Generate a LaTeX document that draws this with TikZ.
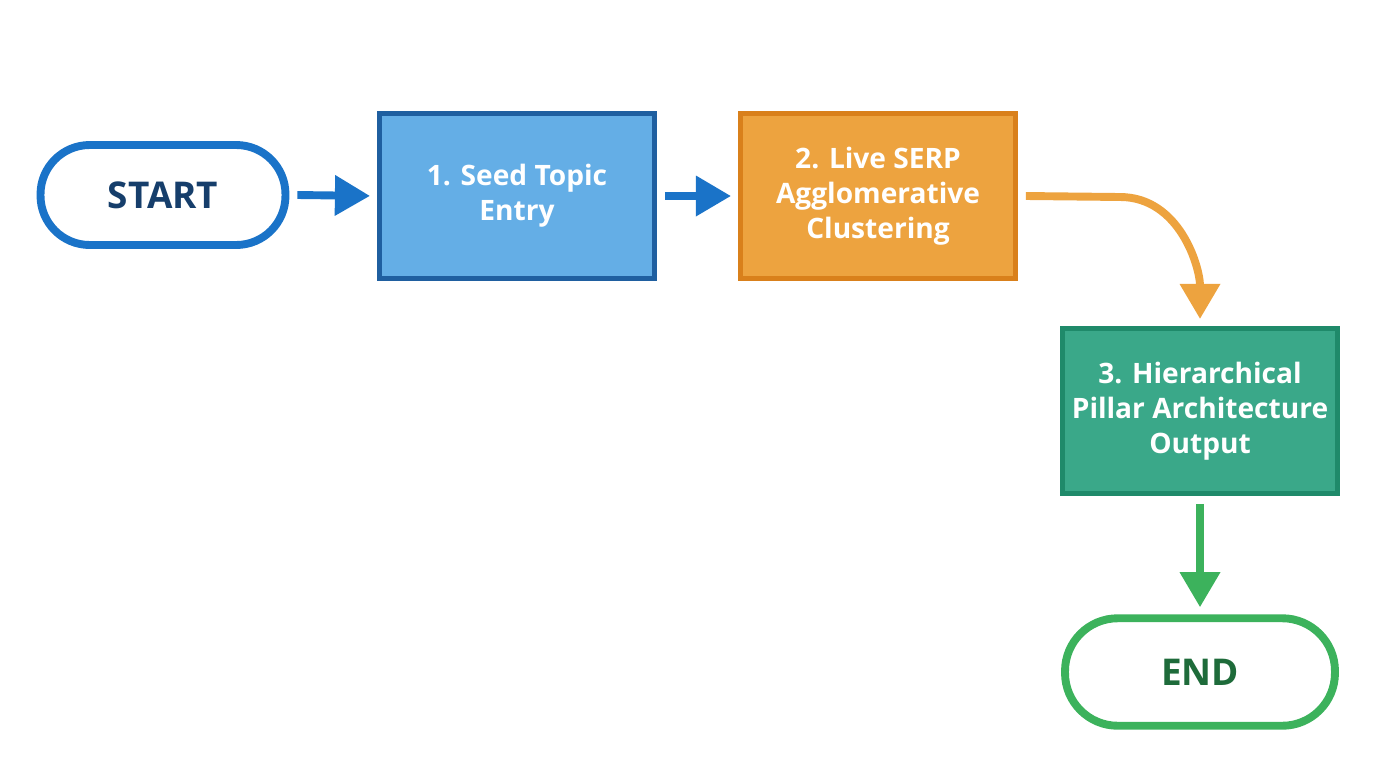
\documentclass[tikz,border=0pt]{standalone}
\usepackage{fontspec}
\setmainfont{Open Sans}
\usetikzlibrary{arrows.meta,positioning}
\definecolor{startblue}{HTML}{1A73C8}
\definecolor{navy}{HTML}{163E6B}
\definecolor{seedfill}{HTML}{64AEE6}
\definecolor{seedline}{HTML}{1F5FA0}
\definecolor{serpfill}{HTML}{EDA33F}
\definecolor{serpline}{HTML}{D9801B}
\definecolor{pillfill}{HTML}{3AA889}
\definecolor{pillline}{HTML}{1F8A6A}
\definecolor{endgreen}{HTML}{3CB25C}
\definecolor{darkgreen}{HTML}{1E6B3A}
\begin{document}
\begin{tikzpicture}[x=0.02cm,y=-0.02cm,
    stage/.style={rectangle,minimum width=5.5cm,minimum height=3.3cm,line width=2.8pt,
      align=center,text=white,font=\bfseries\fontsize{16}{20}\selectfont},
    terminal/.style={rectangle,draw,fill=white,line width=4.5pt,
      font=\bfseries\fontsize{21}{24}\selectfont},
    flow/.style={line width=4.5pt,-{Triangle[length=20pt,width=22pt]},shorten >=4pt}]
  \useasboundingbox (0,0) rectangle (1376,768);
  \node[terminal,rounded corners=28pt,draw=startblue,text=navy,
    minimum width=4.9cm,minimum height=2cm] (start) at (163,195) {START};
  \node[stage,draw=seedline,fill=seedfill] (seed) at (517,196) {1. Seed Topic\\Entry};
  \node[stage,draw=serpline,fill=serpfill] (serp) at (878,196) {2. Live SERP\\Agglomerative\\Clustering};
  \node[stage,draw=pillline,fill=pillfill] (pillar) at (1200,411) {3. Hierarchical\\Pillar Architecture\\Output};
  \node[terminal,rounded corners=30pt,draw=endgreen,text=darkgreen,
    minimum width=5.4cm,minimum height=2.15cm] (end) at (1200,672) {END};
  \coordinate (bend) at (1120,197);
  \draw[flow,draw=startblue] (start.east) ++(8,0) -- (seed.west);
  \draw[flow,draw=startblue] (seed.east) ++(8,0) -- (serp.west);
  \draw[flow,draw=serpfill] (serp.east) ++(8,0) -- (bend) to[out=0,in=90] (pillar.north);
  \draw[flow,draw=endgreen] (pillar.south) ++(0,8) -- (end.north);
\end{tikzpicture}
\end{document}
